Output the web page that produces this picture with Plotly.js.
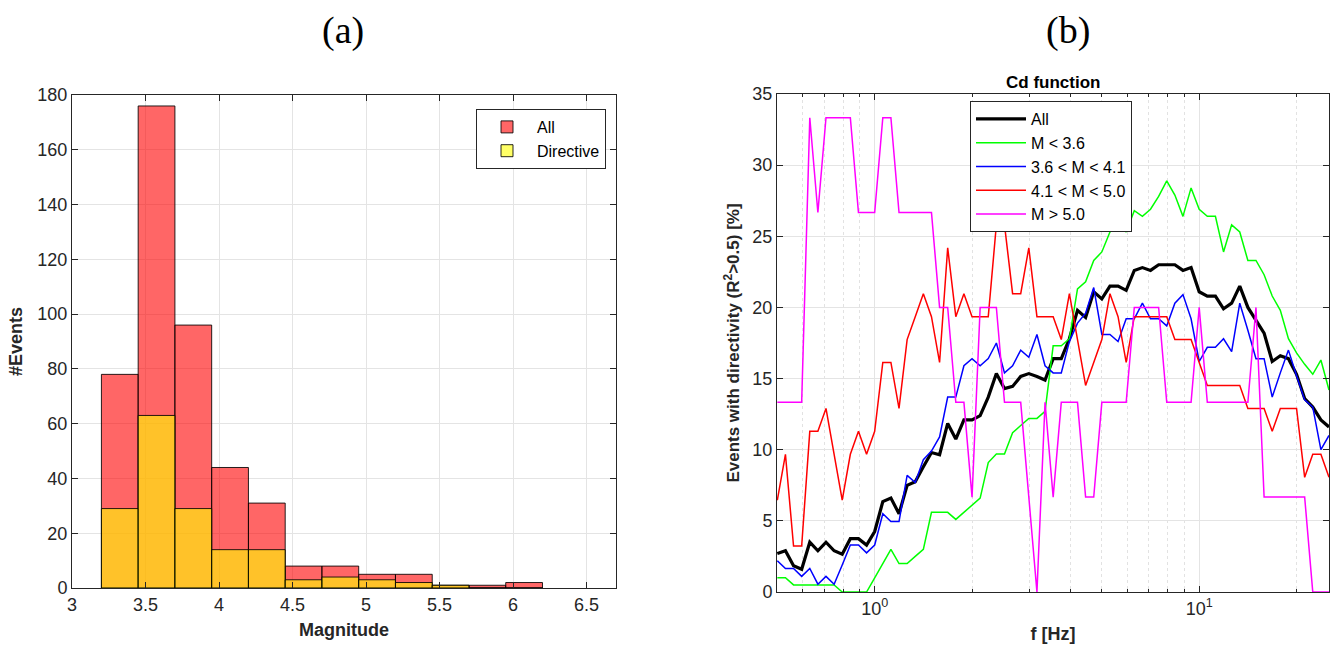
<!DOCTYPE html>
<html><head><meta charset="utf-8">
<script src="https://cdn.plot.ly/plotly-3.0.1.min.js"></script>
<style>html,body{margin:0;padding:0;background:#fff}#chart{width:1334px;height:657px}</style>
</head><body><div id="chart"></div>
<script>
// ---- Panel (a): magnitude histogram ----
const binCenters = [3.325,3.575,3.825,4.075,4.325,4.575,4.825,5.075,5.325,5.575,5.825,6.075];
const countsAll = [78,176,96,44,31,8,8,5,5,1,1,2];
const countsDirective = [29,63,29,14,14,3,4,3,2,1,0,0];

// ---- Panel (b): Cd function ----
const freq = [0.5012,0.5309,0.5623,0.5957,0.6310,0.6683,0.7079,0.7499,0.7943,0.8414,0.8913,0.9441,1.0000,1.0593,1.1220,1.1885,1.2589,1.3335,1.4125,1.4962,1.5849,1.6788,1.7783,1.8836,1.9953,2.1135,2.2387,2.3714,2.5119,2.6607,2.8184,2.9854,3.1623,3.3497,3.5481,3.7584,3.9811,4.2170,4.4668,4.7315,5.0119,5.3088,5.6234,5.9566,6.3096,6.6834,7.0795,7.4989,7.9433,8.4140,8.9125,9.4406,10.000,10.593,11.220,11.885,12.589,13.335,14.125,14.962,15.849,16.788,17.783,18.836,19.953,21.135,22.387,23.714,25.119];
const cdAll = [2.7,2.9,1.85,1.6,3.5,2.9,3.5,2.9,2.65,3.75,3.75,3.3,4.25,6.35,6.6,5.5,7.5,7.75,8.8,9.8,9.65,11.85,10.75,12.1,12.1,12.4,13.7,15.35,14.3,14.45,15.15,15.35,15.15,14.9,16.4,16.4,17.8,19.8,19.3,21.1,20.6,21.5,21.5,21.2,22.6,22.8,22.6,23.0,23.0,23.0,22.6,22.8,21.1,20.8,20.8,19.9,20.3,21.5,20.0,19.1,18.2,16.2,16.6,16.4,15.3,13.6,13.0,12.1,11.6];
const cdLow = [1.0,1.0,0.5,0.5,0.5,0.5,0.5,0.5,0,0,0,0,1.0,2.0,3.0,2.0,2.0,2.5,3.0,5.6,5.6,5.6,5.1,5.6,6.1,6.6,9.1,9.7,9.7,11.2,11.7,12.2,12.2,12.7,17.3,17.3,17.8,21.3,21.8,23.3,23.9,25.3,26.3,25.3,26.8,26.4,26.9,27.8,28.9,27.9,26.4,28.4,26.9,26.4,26.4,23.9,25.8,25.3,23.3,23.3,22.3,20.8,19.8,17.8,16.8,16.0,15.3,16.3,14.2];
const cdMid = [2.2,1.65,1.65,1.1,1.65,0.55,1.1,0.55,1.9,3.3,3.3,2.75,3.3,5.5,4.95,4.95,8.2,7.7,9.3,9.9,10.9,13.7,13.7,15.9,16.4,15.9,16.4,17.5,15.4,15.9,17.0,16.5,18.1,15.9,15.4,15.4,17.6,18.9,19.6,21.4,18.1,18.1,17.6,19.2,19.2,20.3,19.2,19.2,18.7,20.3,20.9,19.2,16.2,17.2,17.2,17.8,16.9,20.3,18.4,16.4,16.4,13.7,15.4,17.0,15.2,13.5,13.0,10.0,11.0];
const cdHigh = [6.45,9.68,3.23,3.23,11.29,11.29,12.9,9.68,6.45,9.68,11.29,9.68,11.29,16.13,16.13,12.9,17.74,19.35,20.97,19.35,16.13,24.19,19.35,20.97,19.35,19.35,19.35,25.81,25.81,20.97,20.97,24.19,19.35,19.35,19.35,17.74,20.97,17.74,14.52,16.13,17.74,20.97,19.35,16.13,19.35,19.35,19.35,19.35,19.35,17.74,17.74,17.74,16.13,14.52,14.52,14.52,14.52,14.52,12.9,12.9,12.9,11.29,12.9,12.9,12.9,8.06,9.68,9.68,8.06];
const cdBig = [13.33,13.33,13.33,13.33,33.33,26.67,33.33,33.33,33.33,33.33,26.67,26.67,26.67,33.33,33.33,26.67,26.67,26.67,26.67,26.67,20,20,13.33,13.33,6.67,20,20,20,13.33,13.33,13.33,6.67,0,13.33,6.67,13.33,13.33,13.33,6.67,6.67,13.33,13.33,13.33,13.33,20,20,20,20,13.33,13.33,13.33,13.33,20,13.33,13.33,13.33,13.33,13.33,13.33,20,6.67,6.67,6.67,6.67,6.67,6.67,0,0,0];
const seriesNames = ['All','M < 3.6','3.6 < M < 4.1','4.1 < M < 5.0','M > 5.0'];
const xTicksA = [3,3.5,4,4.5,5,5.5,6,6.5];
const logTickVals = [1,10];
const logTickText = ['10<sup>0</sup>','10<sup>1</sup>'];
const logMinorVals = [0.6,0.7,0.8,0.9,2,3,4,5,6,7,8,9,20];

const W = 1334, H = 657;
const fx = (a,b) => [a/W, b/W];
const fy = (top,bottom) => [1-bottom/H, 1-top/H];
const FONT = 'Liberation Sans, Arial, Helvetica, sans-serif';
const AX = '#262626';

const traces = [
  {type:'bar', x:binCenters, y:countsAll, width:0.25, name:'All', xaxis:'x', yaxis:'y', legend:'legend',
   marker:{color:'rgba(255,0,0,0.6)', line:{color:'rgba(0,0,0,0.85)', width:1}}},
  {type:'bar', x:binCenters, y:countsDirective, width:0.25, name:'Directive', xaxis:'x', yaxis:'y', legend:'legend',
   marker:{color:'rgba(255,255,0,0.6)', line:{color:'rgba(0,0,0,0.85)', width:1}}}
];
const cdSeries = [cdAll, cdLow, cdMid, cdHigh, cdBig];
const cdColors = ['#000000','#00ff00','#0000ff','#ff0000','#ff00ff'];
const cdWidths = [3.2,1.5,1.5,1.5,1.5];
cdSeries.forEach((ys,k) => traces.push({
  type:'scatter', mode:'lines', x:freq, y:ys, name:seriesNames[k], xaxis:'x2', yaxis:'y2', legend:'legend2',
  line:{color:cdColors[k], width:cdWidths[k]}
}));

const common = {showline:true, linecolor:AX, linewidth:1, mirror:'ticks', ticks:'inside', ticklen:6,
  tickcolor:AX, showgrid:true, gridcolor:'#e4e4e4', gridwidth:1, zeroline:false,
  tickfont:{family:FONT, size:18, color:AX}};

const layout = {
  width:W, height:H, margin:{l:0,r:0,t:0,b:0}, paper_bgcolor:'#fff', plot_bgcolor:'#fff',
  barmode:'overlay', bargap:0, showlegend:true,
  font:{family:FONT, color:AX},
  xaxis: Object.assign({}, common, {domain:fx(72,616), range:[3,6.7], tickmode:'array', tickvals:xTicksA,
    anchor:'y', title:{text:'<b>Magnitude</b>', font:{family:FONT, size:18, color:AX}, standoff:9}}),
  yaxis: Object.assign({}, common, {domain:fy(95,588), range:[0,180], dtick:20, anchor:'x',
    title:{text:'<b>#Events</b>', font:{family:FONT, size:18, color:AX}, standoff:10}}),
  xaxis2: Object.assign({}, common, {domain:fx(777,1329), type:'log', range:[-0.301,1.4], anchor:'y2',
    tickmode:'array', tickvals:logTickVals, ticktext:logTickText,
    minor:{tickmode:'array', tickvals:logMinorVals, ticks:'inside', ticklen:3, tickcolor:AX, showgrid:true, gridcolor:'#e2e2e2', griddash:'dot', gridwidth:1},
    title:{text:'<b>f [Hz]</b>', font:{family:FONT, size:18, color:AX}, standoff:9}}),
  yaxis2: Object.assign({}, common, {domain:fy(94,592), range:[0,35], dtick:5, anchor:'x2',
    title:{text:'<b>Events with directivity (R<sup>2</sup>&gt;0.5) [%]</b>', font:{family:FONT, size:17, color:AX}, standoff:8}}),
  legend:{x:476/W, y:1-109/H, xanchor:'left', yanchor:'top', bgcolor:'#fff', bordercolor:AX, borderwidth:1,
    font:{family:FONT, size:16, color:'#000'}, traceorder:'normal', itemwidth:50, tracegroupgap:0},
  legend2:{x:970/W, y:1-101/H, xanchor:'left', yanchor:'top', bgcolor:'#fff', bordercolor:AX, borderwidth:1,
    font:{family:FONT, size:16, color:'#000'}, traceorder:'normal', itemwidth:50, tracegroupgap:0},
  annotations:[
    {text:'(a)', xref:'paper', yref:'paper', x:343/W, y:1-30/H, xanchor:'center', yanchor:'middle', showarrow:false,
     font:{family:'Liberation Serif, Times New Roman, serif', size:38, color:'#000'}},
    {text:'(b)', xref:'paper', yref:'paper', x:1068/W, y:1-30/H, xanchor:'center', yanchor:'middle', showarrow:false,
     font:{family:'Liberation Serif, Times New Roman, serif', size:38, color:'#000'}},
    {text:'<b>Cd function</b>', xref:'paper', yref:'paper', x:1053/W, y:1-82/H, xanchor:'center', yanchor:'middle', showarrow:false,
     font:{family:FONT, size:17, color:'#000'}}
  ]
};

Plotly.newPlot('chart', traces, layout, {displayModeBar:false, staticPlot:true});
</script></body></html>
